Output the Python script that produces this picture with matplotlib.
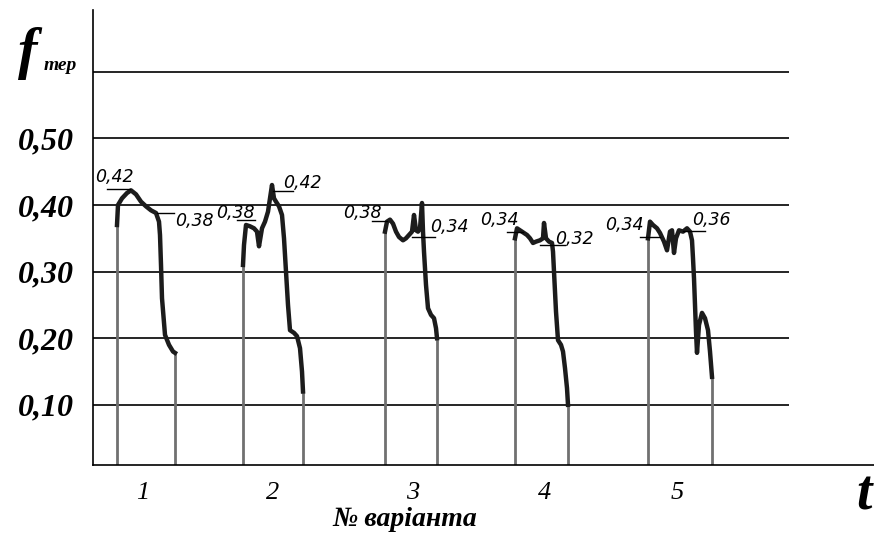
import numpy as np
import matplotlib.pyplot as plt

plt.rcParams['font.family'] = ['Liberation Serif', 'DejaVu Serif']

# f_тер по варіантах (час - умовні одиниці)
p1_t = [24, 25, 29, 34, 38, 43, 48, 53, 58, 63, 66, 67, 68, 69, 72, 76, 80, 82]
p1_f = [0.37, 0.40, 0.41, 0.418, 0.422, 0.416, 0.405, 0.398, 0.392, 0.388, 0.375,
        0.355, 0.31, 0.26, 0.205, 0.19, 0.18, 0.178]
p2_t = [150, 151, 153, 157, 161, 164, 166, 169, 172, 175, 177, 179, 181, 183, 186,
        189, 191, 193, 195, 197, 201, 204, 207, 209, 210]
p2_f = [0.31, 0.34, 0.37, 0.368, 0.365, 0.36, 0.338, 0.365, 0.375, 0.39, 0.41, 0.43,
        0.41, 0.405, 0.398, 0.385, 0.35, 0.30, 0.25, 0.212, 0.208, 0.203, 0.185, 0.15, 0.12]
p3_t = [292, 294, 297, 300, 303, 306, 310, 313, 316, 319, 321, 323, 325, 327, 329,
        330, 331, 333, 335, 338, 341, 343, 344]
p3_f = [0.36, 0.375, 0.378, 0.372, 0.36, 0.352, 0.347, 0.35, 0.355, 0.36, 0.385, 0.362,
        0.36, 0.365, 0.403, 0.36, 0.33, 0.28, 0.245, 0.235, 0.23, 0.215, 0.2]
p4_t = [422, 424, 427, 431, 434, 437, 440, 443, 447, 450, 451, 453, 456, 459, 460,
        461, 463, 465, 468, 470, 472, 474, 475]
p4_f = [0.35, 0.365, 0.362, 0.358, 0.355, 0.35, 0.343, 0.345, 0.347, 0.35, 0.373, 0.35,
        0.345, 0.343, 0.33, 0.3, 0.24, 0.197, 0.19, 0.18, 0.155, 0.125, 0.10]
p5_t = [555, 557, 560, 564, 567, 571, 574, 577, 579, 581, 583, 586, 590, 594, 597,
        599, 600, 601, 602, 603, 604, 606, 609, 612, 615, 617, 619]
p5_f = [0.35, 0.375, 0.37, 0.365, 0.358, 0.345, 0.332, 0.36, 0.362, 0.328, 0.35, 0.362,
        0.36, 0.365, 0.36, 0.347, 0.32, 0.29, 0.25, 0.21, 0.178, 0.22, 0.238, 0.23,
        0.212, 0.18, 0.142]
pulses = [(p1_t, p1_f), (p2_t, p2_f), (p3_t, p3_f), (p4_t, p4_f), (p5_t, p5_f)]

variants = ['1', '2', '3', '4', '5']
variant_pos = [50, 180, 320, 452, 584]
grid_vals = [0.10, 0.20, 0.30, 0.40, 0.50, 0.60]
ytick_vals = [0.10, 0.20, 0.30, 0.40, 0.50]
ytick_labels = ['0,10', '0,20', '0,30', '0,40', '0,50']

# підписи значень: текст, (x тексту, y тексту), (x0, x1, y лінії)
notes = ['0,42', '0,38', '0,38', '0,42', '0,38', '0,34', '0,34', '0,32', '0,34', '0,36']
note_xy = [(2, 0.442), (82, 0.376), (123, 0.388), (190, 0.433), (250, 0.388),
           (337, 0.367), (387, 0.378), (462, 0.349), (512, 0.37), (599, 0.378)]
note_line = [(14, 37, 0.424), (64, 81, 0.388), (144, 162, 0.377), (180, 200, 0.421),
             (279, 294, 0.376), (319, 342, 0.352), (414, 430, 0.359), (447, 472, 0.34),
             (547, 567, 0.352), (590, 612, 0.361)]

W, H = 874, 537
fig = plt.figure(figsize=(W / 100, H / 100), dpi=100)
ax = fig.add_axes([93 / W, (H - 465) / H, 1 - 93 / W, (465 - 10) / H])
ymin, ymax = 0.0096, 0.6928
ax.set_xlim(0, W - 93)
ax.set_ylim(ymin, ymax)

ax.hlines(grid_vals, 0, 696, color='black', lw=1.2)

for t, f in pulses:
    ax.vlines([t[0], t[-1]], ymin, [f[0], f[-1]], color='#707070', lw=2.0)
    ax.plot(t, f, color='#1c1c1c', lw=3.2, solid_joinstyle='round')

for txt, (tx, ty), (x0, x1, ly) in zip(notes, note_xy, note_line):
    ax.text(tx, ty, txt, family='DejaVu Sans', style='italic', fontsize=12.5,
            ha='left', va='center')
    ax.plot([x0, x1], [ly, ly], color='black', lw=1.0)

for s in ['top', 'right']:
    ax.spines[s].set_visible(False)
ax.spines['left'].set_linewidth(1.2)
ax.spines['bottom'].set_linewidth(1.2)

ax.set_yticks(ytick_vals)
ax.set_yticklabels(ytick_labels, fontsize=23, fontweight='bold', style='italic')
ax.set_xticks(variant_pos)
ax.set_xticklabels(variants, fontsize=19, style='italic')
ax.tick_params(axis='y', length=0, pad=14)
ax.tick_params(axis='x', length=0, pad=12)

# підписи осей
fig.text(18 / W, 1 - 68 / H, 'f', fontsize=42, fontweight='bold', style='italic',
         ha='left', va='baseline')
fig.text(44 / W, 1 - 70 / H, 'тер', fontsize=14, fontweight='bold', style='italic',
         ha='left', va='baseline')
fig.text(864 / W, 1 - 495 / H, 't', fontsize=40, fontweight='bold', style='italic',
         ha='center', va='center')
fig.text(405 / W, 1 - 520 / H, '№ варіанта', fontsize=20, fontweight='bold',
         style='italic', ha='center', va='center')

fig.savefig('out.png', dpi=100, facecolor='white')
